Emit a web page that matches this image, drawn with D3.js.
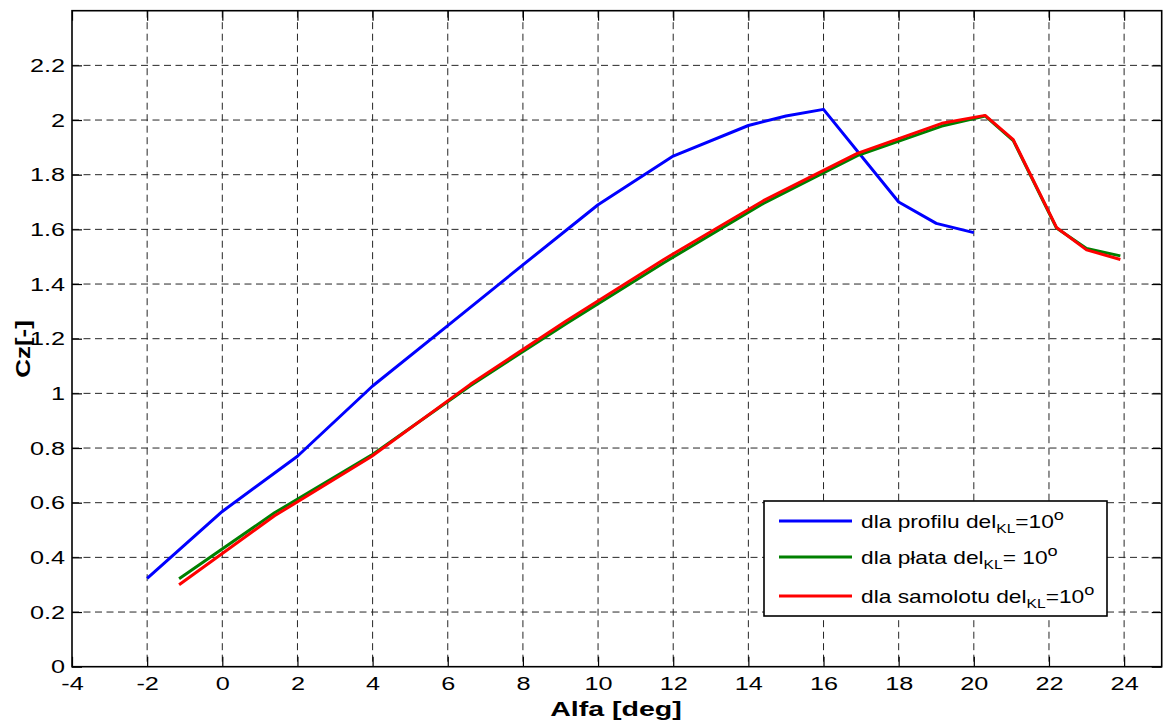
<!DOCTYPE html>
<html>
<head>
<meta charset="utf-8">
<script src="https://cdn.jsdelivr.net/npm/d3@7"></script>
<style>
  html, body { margin: 0; padding: 0; background: #fff; }
  svg { display: block; }
  text { font-family: "Liberation Sans", Arial, Helvetica, sans-serif; fill: #000; }
</style>
</head>
<body>
<svg id="chart" width="1164" height="722"></svg>
<script>
// ---- data ----
const xTicks = [-4, -2, 0, 2, 4, 6, 8, 10, 12, 14, 16, 18, 20, 22, 24];
const yTicks = [0, 0.2, 0.4, 0.6, 0.8, 1, 1.2, 1.4, 1.6, 1.8, 2, 2.2];

const profilAlfa = [-2, 0, 2, 4, 6, 8, 10, 12, 14, 15, 16, 18, 19, 20];
const profilCz   = [0.323, 0.568, 0.770, 1.027, 1.248, 1.470, 1.690, 1.868, 1.980, 2.015, 2.039, 1.700, 1.622, 1.588];

const plataAlfa = [-1.15, 1.39, 3.96, 6.6, 9.15, 11.75, 14.4, 16.9, 19.15, 20.3, 21.05, 22.2, 23.0, 23.9];
const plataCz   = [0.322, 0.563, 0.773, 1.028, 1.255, 1.478, 1.695, 1.870, 1.978, 2.015, 1.925, 1.605, 1.530, 1.503];

const samolotAlfa = [-1.15, 1.39, 3.96, 6.6, 9.15, 11.75, 14.4, 16.9, 19.15, 20.3, 21.05, 22.2, 23.0, 23.9];
const samolotCz   = [0.300, 0.552, 0.768, 1.033, 1.265, 1.490, 1.705, 1.878, 1.988, 2.017, 1.928, 1.607, 1.525, 1.490];

const seriesNames = ["dla profilu del", "dla płata del", "dla samolotu del"];
const seriesSuffix = ["=10", "= 10", "=10"];
const seriesColors = ["#0000ff", "#008000", "#ff0000"];

const xLabel = "Alfa [deg]";
const yLabel = "Cz[-]";

// ---- layout ----
const L = 72, R = 1161.7, T = 10.7, B = 666.7;
const SX = 1.33; // horizontal text stretch

const svg = d3.select("#chart");
const x = d3.scaleLinear().domain([-4, 25]).range([L, R]);
const y = d3.scaleLinear().domain([0, 2.4]).range([B, T]);

// grid
const grid = svg.append("g").attr("stroke", "#262626").attr("stroke-width", 1)
  .attr("stroke-dasharray", "7,4.5").attr("fill", "none");
grid.selectAll("line.v").data(xTicks.filter(d => d > -4)).join("line")
  .attr("x1", d => x(d)).attr("x2", d => x(d)).attr("y1", T).attr("y2", B);
grid.selectAll("line.h").data(yTicks.filter(d => d > 0)).join("line")
  .attr("y1", d => y(d)).attr("y2", d => y(d)).attr("x1", L).attr("x2", R);

// axes
const gB = svg.append("g").attr("transform", `translate(0,${B})`)
  .call(d3.axisBottom(x).tickValues(xTicks).tickSize(-10).tickPadding(10).tickFormat(d => String(d)));
const gL = svg.append("g").attr("transform", `translate(${L},0)`)
  .call(d3.axisLeft(y).tickValues(yTicks).tickSize(-10).tickPadding(7).tickFormat(d => String(+d.toFixed(1))));
const gT = svg.append("g").attr("transform", `translate(0,${T})`)
  .call(d3.axisTop(x).tickValues(xTicks).tickSize(-10).tickFormat(""));
const gR = svg.append("g").attr("transform", `translate(${R},0)`)
  .call(d3.axisRight(y).tickValues(yTicks).tickSize(-10).tickFormat(""));

[gB, gL, gT, gR].forEach(g => {
  g.select(".domain").remove();
  g.selectAll(".tick line").attr("stroke", "#000").attr("stroke-width", 1.2);
  g.selectAll("text").attr("font-size", 19).attr("font-family", "'Liberation Sans', Arial, sans-serif").attr("fill", "#000");
});
gB.selectAll(".tick text").attr("transform", `scale(${SX},1)`);
gL.selectAll(".tick text").each(function () {
  const t = d3.select(this);
  const xx = +t.attr("x");
  t.attr("x", 0).attr("transform", `translate(${xx},0) scale(${SX},1)`);
});

// lines
const line = d3.line().x(d => x(d[0])).y(d => y(d[1]));
const seriesData = [
  d3.zip(profilAlfa, profilCz),
  d3.zip(plataAlfa, plataCz),
  d3.zip(samolotAlfa, samolotCz)
];
svg.append("clipPath").attr("id", "clip").append("rect")
  .attr("x", L).attr("y", T).attr("width", R - L).attr("height", B - T);
svg.append("g").attr("clip-path", "url(#clip)")
  .selectAll("path").data(seriesData).join("path")
  .attr("d", line).attr("fill", "none")
  .attr("stroke", (d, i) => seriesColors[i])
  .attr("stroke-width", 3)
  .attr("stroke-linejoin", "round");

// box
svg.append("rect").attr("x", L).attr("y", T).attr("width", R - L).attr("height", B - T)
  .attr("fill", "none").attr("stroke", "#000").attr("stroke-width", 1.6);

// axis labels
svg.append("text").attr("transform", `translate(616,716) scale(1.36,1)`)
  .attr("text-anchor", "middle").attr("font-size", 21).attr("font-weight", "bold").text(xLabel);
svg.append("text").attr("transform", `translate(30,349) rotate(-90) scale(1.3,1)`)
  .attr("text-anchor", "middle").attr("font-size", 20).attr("font-weight", "bold").text(yLabel);

// legend
const leg = svg.append("g");
leg.append("rect").attr("x", 764).attr("y", 501).attr("width", 343).attr("height", 115)
  .attr("fill", "#fff").attr("stroke", "#000").attr("stroke-width", 1.6);
const rowsY = [521, 557, 596];
seriesNames.forEach((name, i) => {
  leg.append("line").attr("x1", 779).attr("x2", 852).attr("y1", rowsY[i]).attr("y2", rowsY[i])
    .attr("stroke", seriesColors[i]).attr("stroke-width", 3);
  const t = leg.append("text").attr("transform", `translate(861,${rowsY[i] + 7}) scale(1.3,1)`)
    .attr("font-size", 17.5);
  t.append("tspan").text(name);
  t.append("tspan").attr("font-size", 12).attr("dy", 5).text("KL");
  t.append("tspan").attr("dy", -5).text(seriesSuffix[i]);
  t.append("tspan").attr("font-size", 14).attr("dy", -8).text("o");
});
</script>
</body>
</html>
